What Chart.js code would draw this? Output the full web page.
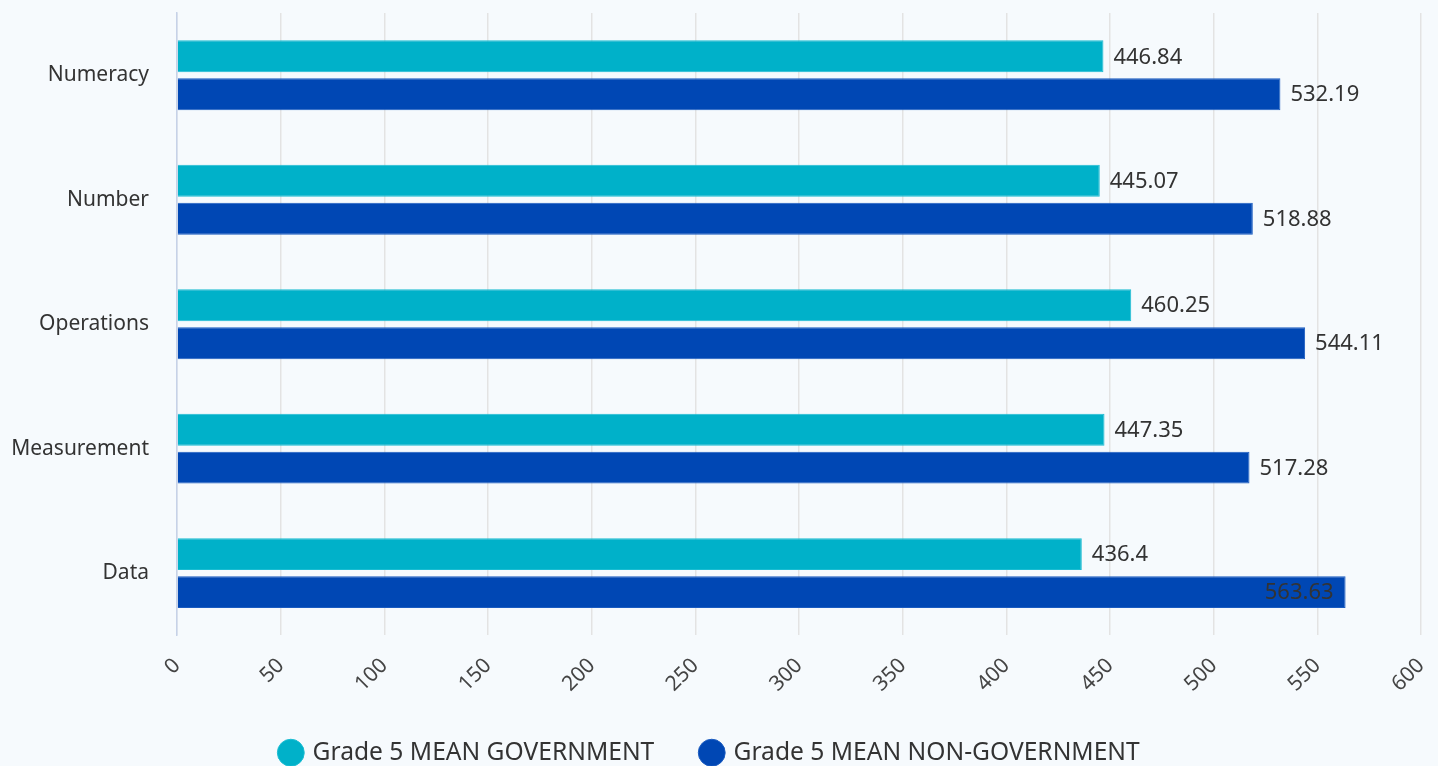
<!DOCTYPE html>
<html>
<head>
<meta charset="utf-8">
<script src="https://cdn.jsdelivr.net/npm/chart.js@4.4.1/dist/chart.umd.min.js"></script>
<style>
  html, body { margin: 0; padding: 0; background: #f6fafd; overflow: hidden; }
  #wrap { width: 1438px; height: 775px; position: relative; }
</style>
</head>
<body>
<div id="wrap"><canvas id="c"></canvas></div>
<script>
const categories = ["Numeracy", "Number", "Operations", "Measurement", "Data"];
const governmentValues = [446.84, 445.07, 460.25, 447.35, 436.4];
const nonGovernmentValues = [532.19, 518.88, 544.11, 517.28, 563.63];
const seriesNames = ["Grade 5 MEAN GOVERNMENT", "Grade 5 MEAN NON-GOVERNMENT"];
const xTickValues = [0, 50, 100, 150, 200, 250, 300, 350, 400, 450, 500, 550, 600];

const FONT = "'Noto Sans', sans-serif";

const valueLabels = {
  id: 'valueLabels',
  afterDatasetsDraw(chart) {
    const ctx = chart.ctx;
    const area = chart.chartArea;
    ctx.save();
    ctx.font = "22px " + FONT;
    ctx.fillStyle = "#333333";
    ctx.textBaseline = "middle";
    chart.data.datasets.forEach((ds, di) => {
      const meta = chart.getDatasetMeta(di);
      meta.data.forEach((bar, i) => {
        const txt = String(ds.data[i]);
        const w = ctx.measureText(txt).width;
        const x = bar.x + 10;
        if (x + w + 6 > area.right) {
          ctx.textAlign = "right";
          ctx.fillText(txt, bar.x - 12, bar.y + 1);
        } else {
          ctx.textAlign = "left";
          ctx.fillText(txt, x, bar.y + 1);
        }
      });
    });
    ctx.restore();
  }
};

new Chart(document.getElementById('c'), {
  type: 'bar',
  data: {
    labels: categories,
    datasets: [
      {
        label: seriesNames[0],
        data: governmentValues,
        backgroundColor: '#00b1c9',
        borderColor: '#1bbcd2',
        borderWidth: 1,
        categoryPercentage: 0.61,
        barPercentage: 0.84
      },
      {
        label: seriesNames[1],
        data: nonGovernmentValues,
        backgroundColor: '#0047b4',
        borderColor: '#1a5bc0',
        borderWidth: 1,
        categoryPercentage: 0.61,
        barPercentage: 0.84
      }
    ]
  },
  options: {
    indexAxis: 'y',
    responsive: true,
    maintainAspectRatio: false,
    animation: false,
    layout: { padding: { top: 13, right: 17, left: 0, bottom: 0 } },
    scales: {
      x: {
        min: 0,
        max: 600,
        afterBuildTicks(axis) { axis.ticks = xTickValues.map(v => ({ value: v })); },
        ticks: {
          font: { family: FONT, size: 21 },
          color: '#444444',
          maxRotation: 45,
          minRotation: 45,
          padding: 18
        },
        grid: { color: '#e3e3e3', lineWidth: 1.5, drawTicks: false },
        border: { display: false },
        afterFit(axis) { axis.height = 57; axis.paddingRight = 0; axis.paddingLeft = 0; }
      },
      y: {
        ticks: {
          font: { family: FONT, size: 21 },
          color: '#333333',
          padding: 28
        },
        grid: { display: false, drawTicks: false },
        border: { display: true, color: '#c6d2e8', width: 1.5 },
        afterFit(axis) { axis.width = 177; axis.paddingTop = 0; axis.paddingBottom = 0; }
      }
    },
    plugins: {
      legend: {
        position: 'bottom',
        labels: {
          usePointStyle: true,
          pointStyle: 'circle',
          boxWidth: 19,
          boxHeight: 19,
          padding: 48,
          color: '#333333',
          font: { family: FONT, size: 24.6 }
        }
      },
      tooltip: { enabled: false }
    }
  },
  plugins: [valueLabels]
});
</script>
</body>
</html>
